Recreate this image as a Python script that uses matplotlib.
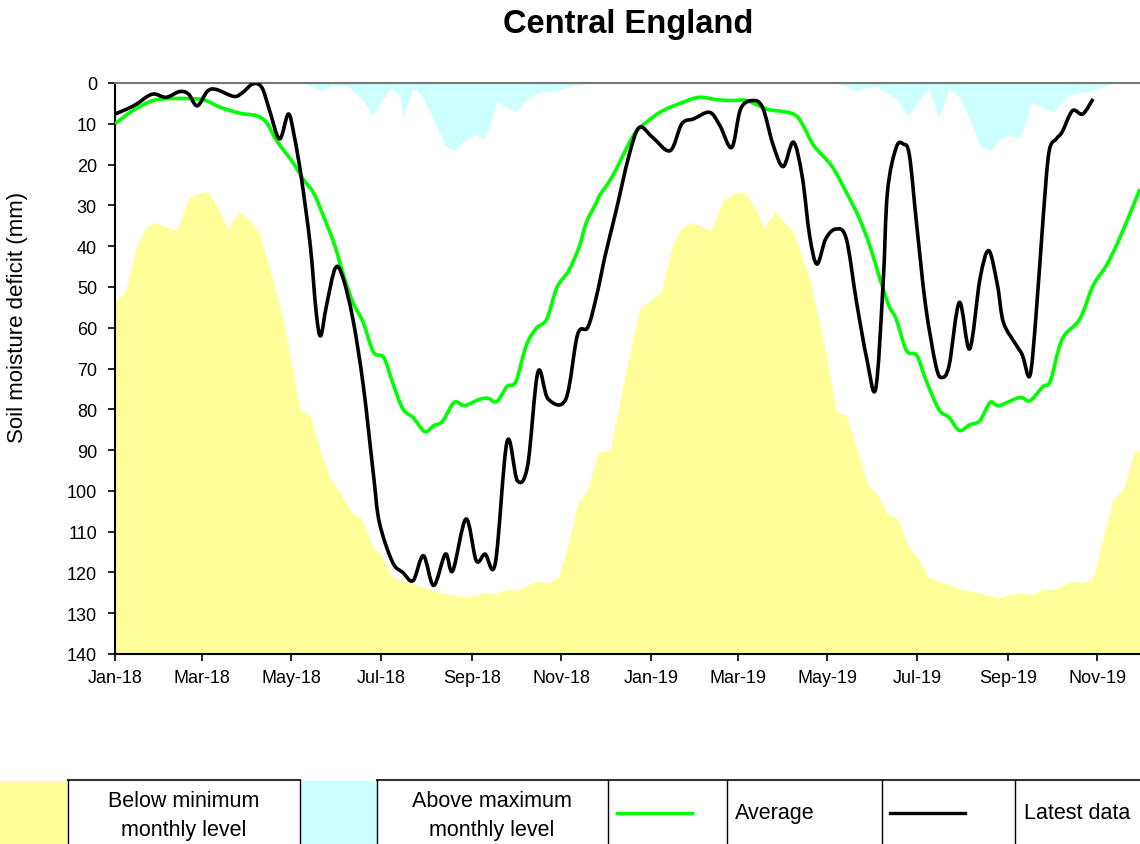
import matplotlib
matplotlib.use("Agg")
import matplotlib.pyplot as plt
import numpy as np
import pandas as pd
from matplotlib.lines import Line2D
from matplotlib.patches import Rectangle, PathPatch
from matplotlib.path import Path

plt.rcParams['font.family'] = ['Liberation Sans', 'DejaVu Sans']

#---------------------------data (days since 1 Jan 2018, mm deficit)---------------------------
# below minimum monthly level (yellow area, from this line down to 140)
min_days = [0, 7, 14, 22, 28, 42, 50, 57, 63, 69, 77, 84, 91, 98, 106, 115, 120, 126, 133,
            140, 148, 154, 161, 168, 176, 180, 189, 203, 221, 238, 248, 253, 259, 267, 274,
            288, 294, 302, 309, 315, 322, 329, 337, 344, 352, 357, 372, 379, 386, 393, 406,
            414, 421, 428, 436, 442, 449, 462, 473, 484, 491, 498, 513, 520, 526, 533, 540,
            547, 554, 575, 602, 616, 624, 632, 639, 652, 659, 666, 679, 687, 694, 698]
min_mm = [53.4, 51.3, 40.7, 35.0, 34.2, 36.2, 28.4, 27.0, 26.6, 30.1, 35.8, 31.5, 33.3, 36.6,
          46.4, 58.7, 68.5, 79.9, 81.6, 90.5, 97.9, 100.8, 105.2, 106.9, 114.2, 115.1, 121.2,
          122.8, 124.9, 126.1, 125.3, 124.9, 125.3, 124.0, 124.3, 122.0, 122.6, 121.2, 112.2,
          103.2, 99.5, 90.5, 90.1, 77.5, 63.6, 55.4, 51.3, 40.3, 35.4, 34.2, 36.2, 28.8, 27.2,
          26.6, 30.5, 35.8, 31.5, 36.6, 48.0, 66.0, 80.3, 81.6, 98.7, 101.2, 105.7, 106.9,
          113.4, 116.7, 121.2, 124.0, 126.1, 124.9, 125.5, 124.0, 124.2, 122.0, 122.6, 121.4,
          102.8, 99.1, 90.5, 90.1]

# above maximum monthly level (cyan area, from 0 down to this line)
max_days = [0, 129, 140, 148, 158, 169, 175, 188, 194, 196, 203, 209, 217, 225, 231, 238, 245,
            252, 260, 273, 281, 289, 301, 312, 321, 492, 497, 504, 518, 532, 540, 554, 561,
            568, 575, 582, 589, 596, 603, 609, 616, 624, 639, 648, 653, 665, 675, 679, 698]
max_mm = [0, 0, 1.9, 0.7, 0.7, 4.3, 8.0, 1.1, 3.1, 8.4, 1.1, 3.1, 8.8, 15.4, 16.6, 14.1, 12.7,
          13.7, 4.6, 7.0, 3.8, 2.3, 1.9, 0.7, 0, 0, 0.7, 1.9, 0.7, 3.9, 8.0, 1.1, 8.7, 1.3, 3.5,
          8.8, 15.4, 16.6, 13.7, 12.7, 13.7, 4.7, 7.2, 3.5, 2.5, 1.9, 0.7, 0, 0]

# long term average
avg_days = [0, 12, 26, 40, 56, 62, 72, 85, 96, 103, 110, 121, 128, 135, 140, 149, 155, 162,
            169, 176, 183, 189, 196, 203, 211, 217, 223, 231, 238, 248, 254, 260, 267, 273, 280,
            287, 294, 301, 309, 316, 321, 328, 330, 339, 353, 362, 373, 387, 398, 410, 421, 430,
            444, 455, 463, 468, 476, 488, 498, 507, 514, 521, 527, 532, 539, 546, 552, 561, 568,
            575, 582, 589, 596, 602, 616, 623, 632, 637, 645, 657, 666, 675, 684, 698]
avg_mm = [10.0, 6.8, 4.3, 3.8, 3.9, 4.3, 6.0, 7.4, 8.0, 9.6, 14.1, 19.4, 23.5, 26.8, 30.9, 39.1,
          46.4, 53.8, 58.7, 66.0, 67.3, 73.4, 79.9, 82.0, 85.5, 84.0, 83.0, 78.3, 79.1, 77.6,
          77.3, 78.1, 74.4, 73.2, 64.4, 60.1, 57.9, 50.1, 46.0, 40.3, 34.2, 29.2, 27.6, 22.7,
          12.9, 9.6, 6.8, 4.7, 3.5, 4.1, 4.3, 4.3, 6.4, 7.0, 7.8, 10.0, 15.4, 20.3, 26.8, 33.3,
          39.9, 48.1, 54.6, 57.9, 65.6, 66.8, 72.6, 80.0, 82.0, 85.2, 83.8, 82.8, 78.3, 79.1,
          77.1, 77.9, 74.4, 73.0, 62.8, 57.9, 49.7, 44.8, 38.2, 26.0]

# latest data
latest_days = [0, 8, 15, 22, 27, 35, 44, 50, 56, 63, 69, 81, 87, 94, 100, 105, 112, 118, 122,
               127, 133, 137, 140, 144, 150, 155, 162, 169, 176, 180, 189, 196, 203, 210, 217,
               225, 230, 239, 246, 252, 259, 267, 274, 281, 288, 295, 307, 315, 322, 328, 334,
               341, 350, 357, 366, 378, 386, 394, 405, 412, 420, 426, 434, 441, 448, 455, 462,
               468, 473, 478, 484, 491, 498, 505, 512, 518, 523, 526, 532, 537, 541, 546, 552,
               559, 563, 568, 575, 582, 589, 595, 601, 605, 614, 618, 623, 627, 632, 636, 641,
               645, 652, 659, 666]
latest_mm = [7.6, 6.4, 5.1, 3.3, 2.7, 3.5, 2.1, 2.7, 5.6, 2.0, 1.6, 3.3, 2.3, 0.2, 1.1, 6.4,
             13.7, 7.6, 12.9, 23.5, 39.9, 56.2, 62.0, 54.6, 45.4, 47.5, 57.9, 74.0, 96.0, 107.7,
             117.5, 120.0, 122.0, 115.9, 123.2, 115.5, 119.6, 106.9, 117.1, 115.5, 117.7, 87.9,
             97.5, 93.8, 70.9, 77.5, 77.5, 61.7, 59.9, 52.1, 42.0, 31.7, 17.8, 10.9, 13.3, 16.6,
             10.0, 8.8, 7.2, 10.5, 15.8, 6.4, 4.3, 6.0, 15.0, 20.5, 14.5, 23.0, 37.4, 44.4, 38.2,
             35.8, 38.2, 53.8, 67.7, 75.0, 49.7, 26.8, 15.8, 15.0, 17.8, 35.0, 54.6, 69.3, 72.2,
             69.3, 53.8, 65.2, 48.1, 41.1, 49.7, 58.7, 64.4, 66.8, 71.8, 57.9, 33.3, 17.0, 13.7,
             12.0, 6.8, 7.6, 3.9]

tick_labels = ['Jan-18', 'Mar-18', 'May-18', 'Jul-18', 'Sep-18', 'Nov-18',
               'Jan-19', 'Mar-19', 'May-19', 'Jul-19', 'Sep-19', 'Nov-19']


def smooth_path(xs, ys):
    # spreadsheet style "smoothed line": bezier segments through every point
    p = np.column_stack([xs, ys]).astype(float)
    p_ext = np.vstack([p[0], p, p[-1]])
    verts = [p[0]]
    codes = [Path.MOVETO]
    for i in range(len(p) - 1):
        a, b, c, d = p_ext[i], p_ext[i+1], p_ext[i+2], p_ext[i+3]
        verts += [b + (c - a) / 6.0, c - (d - b) / 6.0, c]
        codes += [Path.CURVE4] * 3
    return Path(verts, codes)


#---------------------------figure---------------------------
fig = plt.figure(figsize=(11.4, 8.45), dpi=100)
ax = fig.add_axes([115/1140, 1-655/845, 1-115/1140, (655-84)/845])

yellow = '#FFFF99'
cyan = '#CCFFFF'
green = '#00FF00'

ax.fill_between(min_days, min_mm, 140, color=yellow, lw=0, zorder=1)
ax.fill_between(max_days, 0, max_mm, color=cyan, lw=0, zorder=1)
ax.add_patch(PathPatch(smooth_path(avg_days, avg_mm), fill=False, edgecolor=green,
                       lw=2.6, joinstyle='round', zorder=3))
ax.add_patch(PathPatch(smooth_path(latest_days, latest_mm), fill=False, edgecolor='black',
                       lw=2.6, joinstyle='round', zorder=4))

ax.set_ylim(140, 0)
ax.set_xlim(0, 698)
ax.set_yticks(np.arange(0, 141, 10))

# month starts every two months
tick_dates = pd.date_range('2018-01-01', periods=len(tick_labels), freq='2MS')
tick_pos = (tick_dates - pd.Timestamp('2018-01-01')).days
ax.set_xticks(tick_pos)
ax.set_xticklabels(tick_labels)

ax.tick_params(direction='out', length=5, width=1.2, labelsize=13, colors='black')
ax.tick_params(axis='x', pad=6)
ax.tick_params(axis='y', pad=8)
for s in ['left', 'bottom']:
    ax.spines[s].set_linewidth(1.5)
ax.spines['right'].set_visible(False)
ax.spines['top'].set_color('#777777')
ax.spines['top'].set_linewidth(1.5)

fig.text(18/1140, 1-317/845, 'Soil moisture deficit (mm)', rotation=90,
         ha='center', va='center', fontsize=16)

fig.text(628/1140, 1-25/845, 'Central England', ha='center', va='center',
         fontsize=23.5, fontweight='bold')

#---------------------------legend table at the bottom---------------------------
lg = fig.add_axes([0, 0, 1, 1])
lg.set_xlim(0, 1140)
lg.set_ylim(845, 0)
lg.axis('off')
lg.patch.set_alpha(0)

lg.add_patch(Rectangle((0, 782), 68, 70, color=yellow, lw=0))
lg.add_patch(Rectangle((300, 782), 77, 70, color=cyan, lw=0))
lg.plot([68, 300], [781, 781], color='#333333', lw=1.5)
lg.plot([377, 1140], [781, 781], color='#333333', lw=1.5)
for xv in [68, 300, 377, 608, 727, 882, 1015]:
    lg.plot([xv, xv], [781, 845], color='black', lw=1)

lg.text(184, 816, 'Below minimum\nmonthly level', ha='center', va='center',
        fontsize=15.5, linespacing=1.45)
lg.text(492, 816, 'Above maximum\nmonthly level', ha='center', va='center',
        fontsize=15.5, linespacing=1.45)
lg.add_line(Line2D([617, 692], [814, 814], color=green, lw=2.4))
lg.text(735, 814, 'Average', ha='left', va='center', fontsize=15.5)
lg.add_line(Line2D([890, 965], [814, 814], color='black', lw=2.4))
lg.text(1024, 814, 'Latest data', ha='left', va='center', fontsize=15.5)

fig.savefig('out.png', dpi=100)
